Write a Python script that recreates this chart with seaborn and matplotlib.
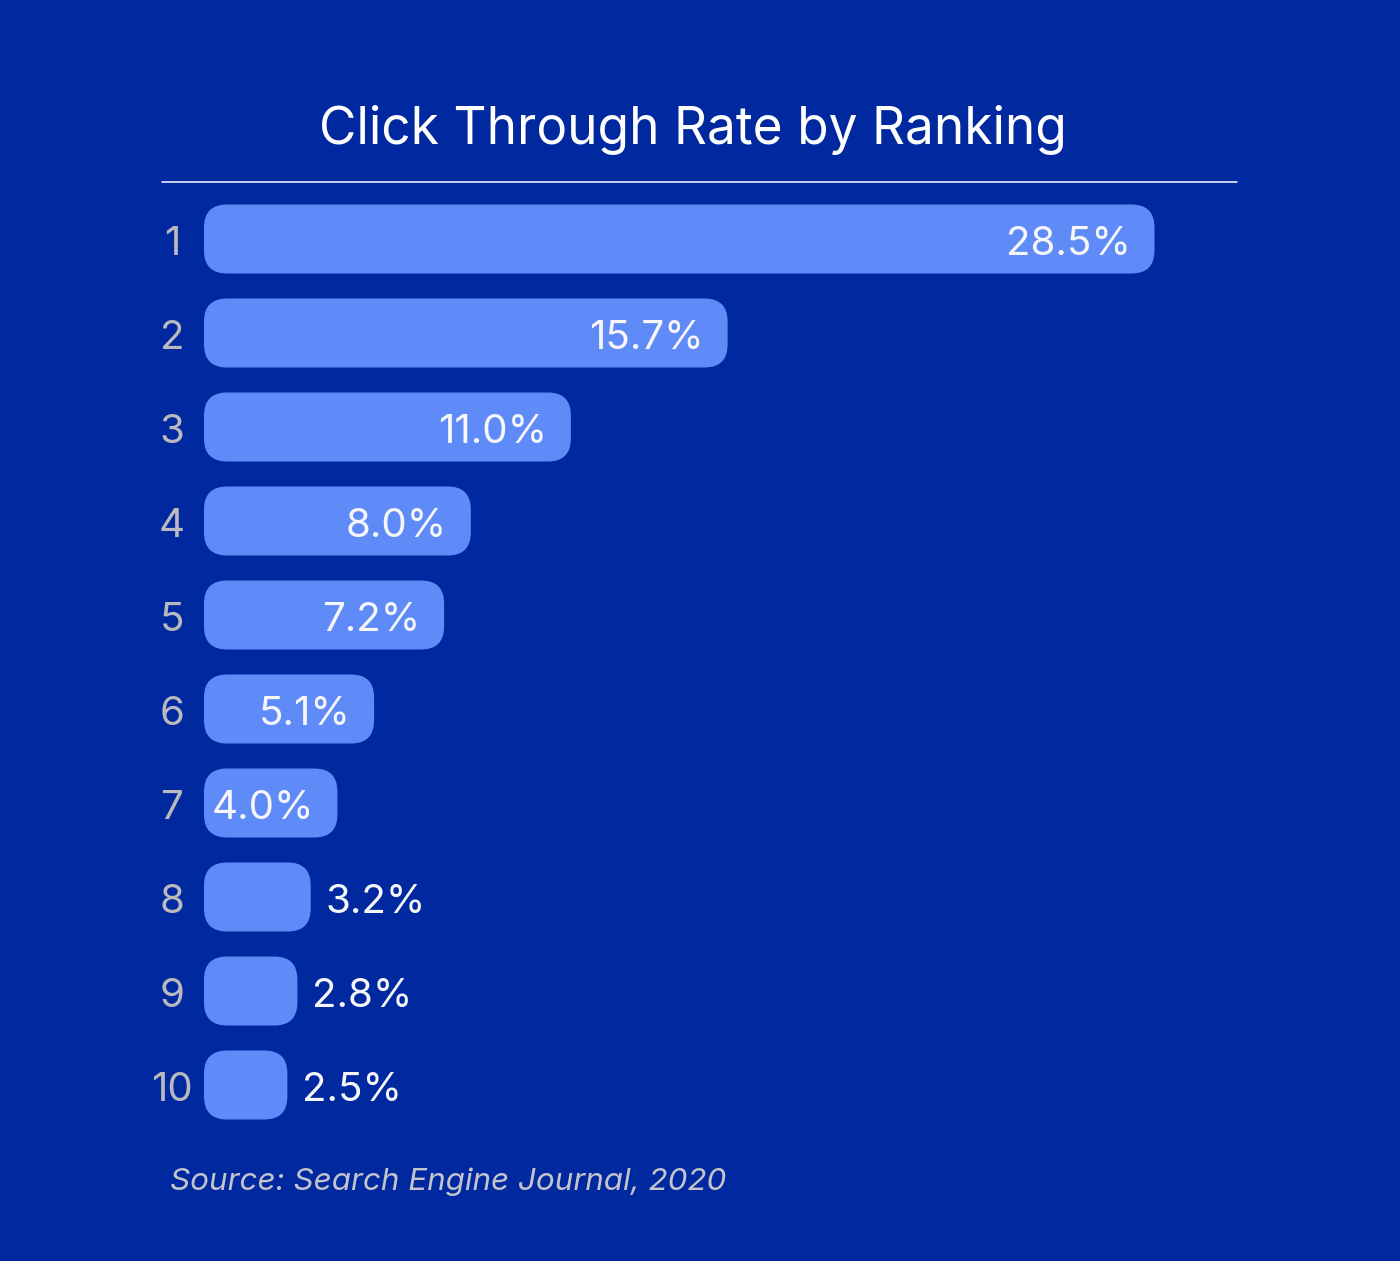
import matplotlib
matplotlib.use("Agg")
import matplotlib.pyplot as plt
import seaborn as sns
import pandas as pd
from matplotlib.patches import FancyBboxPatch
from matplotlib.lines import Line2D

ranks = ["1", "2", "3", "4", "5", "6", "7", "8", "9", "10"]
ctr = [28.5, 15.7, 11.0, 8.0, 7.2, 5.1, 4.0, 3.2, 2.8, 2.5]
labels = ["28.5%", "15.7%", "11.0%", "8.0%", "7.2%", "5.1%", "4.0%", "3.2%", "2.8%", "2.5%"]
title = "Click Through Rate by Ranking"
source = "Source: Search Engine Journal, 2020"

BG = "#0029A0"
BAR = "#5F8BF8"
GREY = "#B9B9BE"

sns.set_theme(style="white")
plt.rcParams["font.family"] = ["Inter", "DejaVu Sans"]

W, H = 1400, 1261
fig = plt.figure(figsize=(W / 100, H / 100), dpi=100, facecolor=BG)
ax = fig.add_axes([204 / W, 1 - 1132 / H, 1032 / W, 940 / H])
ax.set_facecolor(BG)

df = pd.DataFrame({"rank": ranks, "ctr": ctr})
sns.barplot(data=df, x="ctr", y="rank", orient="h", ax=ax, color=BAR, width=0.734)

px_per_x = 33.35
px_per_y = 94.0
xmax = 1032 / px_per_x
ax.set_xlim(0, xmax)
ax.set_ylim(9.5, -0.5)

# replace rectangles by rounded ones
radius_px = 23
r = radius_px / px_per_x
aspect = px_per_x / px_per_y
for p in list(ax.patches):
    x0, y0 = p.get_x(), p.get_y()
    w, h = p.get_width(), p.get_height()
    fb = FancyBboxPatch((x0, y0), w, h,
                        boxstyle=f"round,pad=0,rounding_size={r}",
                        mutation_aspect=aspect,
                        facecolor=BAR, edgecolor="none")
    p.remove()
    ax.add_patch(fb)

for i, (v, lab) in enumerate(zip(ctr, labels)):
    if v >= 4:
        ax.annotate(lab, xy=(v, i), xycoords="data", xytext=(-17, -11.5),
                    textcoords="offset points", ha="right", va="baseline",
                    color="#F7F7FA", fontsize=29)
    else:
        ax.annotate(lab, xy=(v, i), xycoords="data", xytext=(10.5, -11.5),
                    textcoords="offset points", ha="left", va="baseline",
                    color="#F7F7FA", fontsize=29)
    ax.annotate(ranks[i], xy=(172 / W, i), xycoords=("figure fraction", "data"),
                xytext=(0, -11.5), textcoords="offset points", ha="center",
                va="baseline", color=GREY, fontsize=29)

ax.set_xlabel("")
ax.set_ylabel("")
ax.set_xticks([])
ax.set_yticks([])
for s in ax.spines.values():
    s.set_visible(False)

fig.text(693 / W, 1 - 144 / H, title, ha="center", va="baseline",
         color="white", fontsize=37)
fig.add_artist(Line2D([162 / W, 1237 / W], [1 - 182 / H, 1 - 182 / H],
                      transform=fig.transFigure, color="white", lw=1.1))
fig.text(170 / W, 1 - 1190 / H, source, ha="left", va="baseline",
         color="#C4C4CC", fontsize=22.6, style="italic")

fig.savefig("out.png", dpi=100, facecolor=BG)
